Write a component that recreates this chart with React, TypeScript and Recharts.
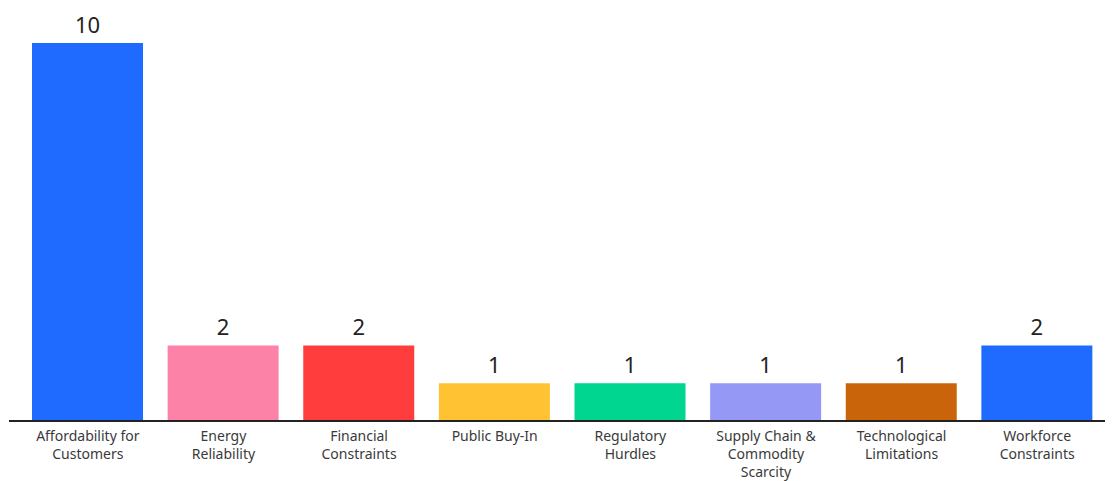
import { BarChart, Bar, XAxis, YAxis, Cell, LabelList } from "recharts";

const categories = [
  "Affordability for Customers",
  "Energy Reliability",
  "Financial Constraints",
  "Public Buy-In",
  "Regulatory Hurdles",
  "Supply Chain & Commodity Scarcity",
  "Technological Limitations",
  "Workforce Constraints",
];

// how each category label wraps under its bar
const tickLines: string[][] = [
  ["Affordability for", "Customers"],
  ["Energy", "Reliability"],
  ["Financial", "Constraints"],
  ["Public Buy-In"],
  ["Regulatory", "Hurdles"],
  ["Supply Chain &", "Commodity", "Scarcity"],
  ["Technological", "Limitations"],
  ["Workforce", "Constraints"],
];

const counts = [10, 2, 2, 1, 1, 1, 1, 2];

const barColors = [
  "#1f6bff",
  "#fd82a8",
  "#ff3d3d",
  "#ffc233",
  "#00d68f",
  "#9599f5",
  "#c9640b",
  "#1f6bff",
];

const data = categories.map((name, i) => ({ name, value: counts[i] }));

const FONT = "'Noto Sans', sans-serif";

function CategoryTick({ x, y, payload }: any) {
  const idx = categories.indexOf(payload.value);
  const lines = tickLines[idx] ?? [payload.value];
  return (
    <g transform={`translate(${x},${y})`}>
      {lines.map((line, i) => (
        <text
          key={i}
          x={0}
          y={7 + i * 18}
          dy="0.35em"
          textAnchor="middle"
          fontSize={14}
          fontFamily={FONT}
          fill="#3a3a3a"
        >
          {line}
        </text>
      ))}
    </g>
  );
}

export default function App() {
  return (
    <div style={{ position: "absolute", left: 0, top: 0, width: 1112, height: 481, background: "#fff" }}>
      <BarChart
        width={1112}
        height={481}
        data={data}
        margin={{ top: 43, right: 7, left: 9, bottom: 0 }}
      >
        <XAxis
          dataKey="name"
          interval={0}
          height={60}
          tickLine={false}
          axisLine={{ stroke: "#222", strokeWidth: 2 }}
          padding={{ left: 11, right: 0 }}
          tick={<CategoryTick />}
        />
        <YAxis hide domain={[0, 10]} />
        <Bar dataKey="value" barSize={111} isAnimationActive={false}>
          {data.map((_, i) => (
            <Cell key={i} fill={barColors[i]} />
          ))}
          <LabelList
            dataKey="value"
            position="top"
            offset={10}
            fontSize={22}
            fontFamily={FONT}
            fill="#222"
          />
        </Bar>
      </BarChart>
    </div>
  );
}
